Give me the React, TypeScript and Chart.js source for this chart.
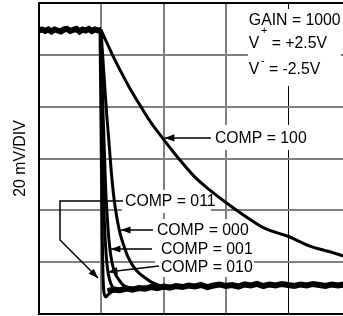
import React, { useEffect, useRef } from 'react';
import { Chart, registerables } from 'chart.js';

Chart.register(...registerables);

// Units: horizontal and vertical screen divisions (20 mV/DIV vertically)
const plateauX = [0.0, 0.05, 0.1, 0.15, 0.2, 0.25, 0.3, 0.35, 0.4, 0.45, 0.5, 0.55, 0.6, 0.65, 0.7, 0.75, 0.8, 0.85, 0.9, 0.95, 1.0];
const plateauY = [5.47, 5.49, 5.46, 5.49, 5.45, 5.49, 5.47, 5.45, 5.49, 5.5, 5.46, 5.48, 5.5, 5.45, 5.49, 5.47, 5.5, 5.46, 5.49, 5.47, 5.48];

const baselineX = [1.1, 1.2, 1.3, 1.4, 1.5, 1.6, 1.7, 1.8, 1.9, 2.0, 2.1, 2.2, 2.3, 2.4, 2.5, 2.6, 2.7, 2.8, 2.9, 3.0, 3.1, 3.2, 3.3, 3.4, 3.5, 3.6, 3.7, 3.8, 3.9, 4.0, 4.1, 4.2, 4.3, 4.4, 4.5, 4.6, 4.7, 4.8, 4.9];
const baselineY = [0.44, 0.47, 0.46, 0.49, 0.47, 0.5, 0.49, 0.52, 0.5, 0.53, 0.51, 0.54, 0.52, 0.55, 0.53, 0.56, 0.52, 0.55, 0.57, 0.54, 0.56, 0.53, 0.57, 0.55, 0.58, 0.54, 0.57, 0.55, 0.58, 0.56, 0.54, 0.57, 0.55, 0.58, 0.56, 0.54, 0.57, 0.55, 0.57];

const comp011X = [0.98, 0.995, 1.011, 1.027, 1.043, 1.075, 1.107, 1.155, 1.22];
const comp011Y = [5.48, 3.74, 1.81, 0.75, 0.42, 0.33, 0.37, 0.42, 0.46];

const comp010X = [0.995, 1.011, 1.027, 1.043, 1.059, 1.075, 1.091, 1.107, 1.139, 1.171, 1.219, 1.284];
const comp010Y = [5.48, 4.13, 2.88, 2.01, 1.52, 1.2, 0.97, 0.81, 0.64, 0.54, 0.48, 0.46];

const comp001X = [0.995, 1.011, 1.027, 1.043, 1.059, 1.075, 1.091, 1.107, 1.123, 1.139, 1.171, 1.203, 1.235, 1.284, 1.332, 1.412, 1.508];
const comp001Y = [5.48, 4.61, 3.9, 3.36, 2.78, 2.28, 1.97, 1.66, 1.43, 1.25, 1.0, 0.85, 0.75, 0.66, 0.58, 0.52, 0.5];

const comp000X = [0.995, 1.027, 1.059, 1.091, 1.123, 1.155, 1.203, 1.251, 1.3, 1.364, 1.428, 1.508, 1.604, 1.701, 1.797, 1.909, 2.038];
const comp000Y = [5.48, 4.9, 4.32, 3.78, 3.32, 2.82, 2.24, 1.85, 1.56, 1.31, 1.1, 0.93, 0.79, 0.7, 0.62, 0.56, 0.52];

const comp100X = [0.995, 1.075, 1.171, 1.3, 1.46, 1.62, 1.781, 1.941, 2.102, 2.262, 2.503, 2.743, 3.0, 3.305, 3.626, 3.995, 4.348, 4.669, 4.88];
const comp100Y = [5.48, 5.27, 5.02, 4.71, 4.35, 4.03, 3.72, 3.46, 3.21, 2.97, 2.64, 2.39, 2.15, 1.89, 1.65, 1.5, 1.31, 1.2, 1.12];

const yAxisLabel = '20 mV/DIV';
const conditionLines = [
  { base: 'GAIN = 1000', sup: '', rest: '' },
  { base: 'V', sup: '+', rest: ' = +2.5V' },
  { base: 'V', sup: '-', rest: ' = -2.5V' },
];
const compLabels = ['COMP = 100', 'COMP = 011', 'COMP = 000', 'COMP = 001', 'COMP = 010'];

const FONT_FAMILY = '"Liberation Sans", Arial, Helvetica, sans-serif';
const FS = 15.8;

const toPts = (xs: number[], ys: number[]) => xs.map((x, i) => ({ x, y: ys[i] }));

function arrowHead(ctx: CanvasRenderingContext2D, fx: number, fy: number, tx: number, ty: number) {
  const ang = Math.atan2(ty - fy, tx - fx);
  const len = 9.5;
  const hw = 3.6;
  ctx.beginPath();
  ctx.moveTo(tx, ty);
  ctx.lineTo(tx - len * Math.cos(ang) + hw * Math.sin(ang), ty - len * Math.sin(ang) - hw * Math.cos(ang));
  ctx.lineTo(tx - len * Math.cos(ang) - hw * Math.sin(ang), ty - len * Math.sin(ang) + hw * Math.cos(ang));
  ctx.closePath();
  ctx.fill();
}

const scopePlugin = {
  id: 'scopeAnnotations',
  beforeDatasetsDraw(chart: any) {
    const { ctx, scales } = chart;
    const X = (v: number) => scales.x.getPixelForValue(v);
    const Y = (v: number) => scales.y.getPixelForValue(v);
    const boxes = [
      [3.353, 5.885, 4.845, 4.399],
      [2.76, 3.647, 4.364, 3.164],
      [1.332, 2.392, 2.76, 1.949],
      [1.861, 1.833, 3.449, 0.714],
    ];
    ctx.save();
    ctx.fillStyle = '#ffffff';
    for (const [x0, y0, x1, y1] of boxes) {
      ctx.fillRect(X(x0), Y(y0), X(x1) - X(x0), Y(y1) - Y(y0));
    }
    ctx.restore();
  },
  afterDatasetsDraw(chart: any) {
    const { ctx, scales } = chart;
    const X = (v: number) => scales.x.getPixelForValue(v);
    const Y = (v: number) => scales.y.getPixelForValue(v);
    ctx.save();
    ctx.fillStyle = '#000';
    ctx.strokeStyle = '#000';
    ctx.lineWidth = 1.5;

    // conditions block
    const font = `${FS}px ${FONT_FAMILY}`;
    const supFont = `11px ${FONT_FAMILY}`;
    const baselines = [5.576, 5.132, 4.631];
    const supRaise = [0, 13.5, 9.5];
    ctx.textBaseline = 'alphabetic';
    ctx.textAlign = 'left';
    conditionLines.forEach((ln, i) => {
      let x = X(3.369);
      const y = Y(baselines[i]);
      ctx.font = font;
      ctx.fillText(ln.base, x, y);
      x += ctx.measureText(ln.base).width;
      if (ln.sup) {
        ctx.font = supFont;
        ctx.fillText(ln.sup, x + 1.5, y - supRaise[i]);
        x += ctx.measureText(ln.sup).width + 1.5;
        ctx.font = font;
        ctx.fillText(ln.rest, x, y);
      }
    });

    // comp labels
    ctx.font = font;
    ctx.textBaseline = 'middle';
    const textPos = [
      [2.824, 3.396],
      [1.38, 2.18],
      [1.893, 1.621],
      [1.957, 1.254],
      [1.957, 0.907],
    ];
    compLabels.forEach((t, i) => {
      ctx.fillText(t, X(textPos[i][0]), Y(textPos[i][1]) + 1);
    });

    // simple arrows
    const arrows = [
      [2.76, 3.396, 2.021, 3.396],
      [1.829, 1.621, 1.316, 1.621],
      [1.813, 1.254, 1.155, 1.254],
      [1.925, 0.926, 1.107, 0.81],
    ];
    for (const [fx, fy, tx, ty] of arrows) {
      ctx.beginPath();
      ctx.moveTo(X(fx), Y(fy));
      ctx.lineTo(X(tx), Y(ty));
      ctx.stroke();
      arrowHead(ctx, X(fx), Y(fy), X(tx), Y(ty));
    }

    // leader for COMP = 011
    const leader = [
      [1.348, 2.18],
      [0.337, 2.18],
      [0.337, 1.428],
      [0.947, 0.695],
    ];
    ctx.beginPath();
    leader.forEach(([lx, ly], i) => {
      if (i === 0) ctx.moveTo(X(lx), Y(ly));
      else ctx.lineTo(X(lx), Y(ly));
    });
    ctx.stroke();
    const n = leader.length;
    arrowHead(ctx, X(leader[n - 2][0]), Y(leader[n - 2][1]), X(leader[n - 1][0]), Y(leader[n - 1][1]));
    ctx.restore();
  },
  afterDraw(chart: any) {
    const { ctx, chartArea } = chart;
    ctx.save();
    ctx.fillStyle = '#000';
    ctx.font = `${FS}px ${FONT_FAMILY}`;
    ctx.textAlign = 'center';
    ctx.textBaseline = 'middle';
    ctx.translate(chartArea.left - 18, (chartArea.top + chartArea.bottom) / 2);
    ctx.rotate(-Math.PI / 2);
    ctx.fillText(yAxisLabel, 0, 0);
    ctx.restore();
  },
};

export default function App() {
  const ref = useRef<HTMLCanvasElement | null>(null);

  useEffect(() => {
    if (!ref.current) return;
    const trace = (xs: number[], ys: number[], w: number) => ({
      data: toPts(xs, ys),
      borderColor: '#000',
      borderWidth: w,
      pointRadius: 0,
      fill: false,
      cubicInterpolationMode: 'monotone' as const,
    });
    const chart = new Chart(ref.current, {
      type: 'line',
      data: {
        datasets: [
          { ...trace(plateauX, plateauY, 6), cubicInterpolationMode: 'default' as const, tension: 0 },
          { ...trace(baselineX, baselineY, 6), cubicInterpolationMode: 'default' as const, tension: 0 },
          trace(comp011X, comp011Y, 3),
          trace(comp010X, comp010Y, 3),
          trace(comp001X, comp001Y, 3),
          trace(comp000X, comp000Y, 3),
          trace(comp100X, comp100Y, 3),
        ],
      },
      options: {
        animation: false,
        responsive: false,
        devicePixelRatio: 1,
        layout: { padding: { left: 39, top: 3, right: 0, bottom: 2 } },
        plugins: { legend: { display: false }, tooltip: { enabled: false } },
        scales: {
          x: {
            type: 'linear',
            min: 0,
            max: 4.88,
            ticks: { display: false, stepSize: 1, includeBounds: false },
            grid: {
              drawTicks: false,
              color: (c: any) => (c.tick && c.tick.value === 4 ? '#000' : '#808080'),
              lineWidth: (c: any) => (c.tick && c.tick.value === 4 ? 1 : 2),
            },
            border: { display: true, color: '#000', width: 2 },
          },
          y: {
            type: 'linear',
            min: 0,
            max: 6,
            ticks: { display: false, stepSize: 1 },
            grid: {
              drawTicks: false,
              color: (c: any) => (c.tick && c.tick.value === 6 ? '#000' : '#808080'),
              lineWidth: 2,
            },
            border: { display: true, color: '#000', width: 2 },
          },
        },
      },
      plugins: [scopePlugin],
    });
    return () => chart.destroy();
  }, []);

  return (
    <div style={{ position: 'absolute', left: 0, top: 0, width: 343, height: 316, background: '#fff' }}>
      <canvas ref={ref} width={343} height={316} style={{ display: 'block' }} />
    </div>
  );
}
